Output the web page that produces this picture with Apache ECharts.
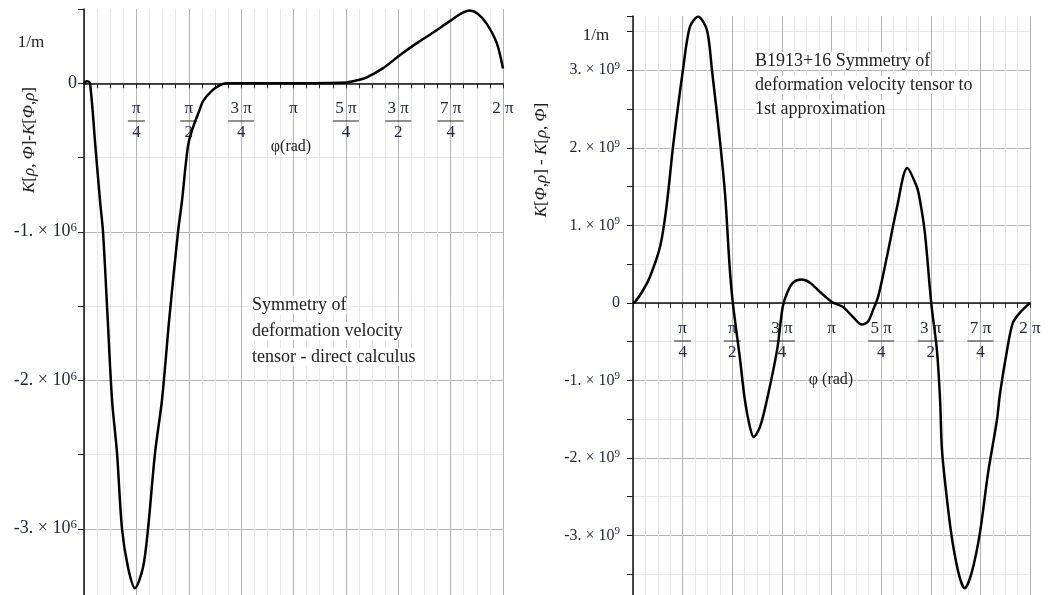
<!DOCTYPE html>
<html>
<head>
<meta charset="utf-8">
<script src="https://cdn.jsdelivr.net/npm/echarts@6/dist/echarts.min.js"></script>
<style>
  html, body { margin: 0; padding: 0; background: #fff; }
  #chart { width: 1052px; height: 595px; }
</style>
</head>
<body>
<div id="chart"></div>
<script>
// left: direct calculus, phi in rad
const leftPhi = [0, 0.045, 0.09, 0.17, 0.24, 0.285, 0.35, 0.42, 0.495, 0.57, 0.66, 0.765, 0.885, 0.96, 1.065, 1.17, 1.28, 1.41, 1.47, 1.56, 1.64, 1.725, 1.785, 1.92, 2.04, 2.13, 3.0, 3.93, 4.1, 4.24, 4.48, 4.74, 4.99, 5.23, 5.49, 5.66, 5.78, 5.9, 6.04, 6.19, 6.283];
const leftVal = [0, 0.013e6, 0, -0.42e6, -0.79e6, -1.0e6, -1.54e6, -2.13e6, -2.49e6, -3.0e6, -3.26e6, -3.40e6, -3.26e6, -3.0e6, -2.49e6, -2.13e6, -1.58e6, -1.0e6, -0.79e6, -0.42e6, -0.29e6, -0.19e6, -0.12e6, -0.05e6, -0.013e6, 0, 0, 0.005e6, 0.02e6, 0.04e6, 0.10e6, 0.19e6, 0.27e6, 0.34e6, 0.42e6, 0.47e6, 0.49e6, 0.47e6, 0.40e6, 0.27e6, 0.10e6];

// right: B1913+16, 1st approximation
const rightPhi = [0, 0.03, 0.15, 0.27, 0.43, 0.53, 0.64, 0.79, 0.90, 1.03, 1.17, 1.25, 1.38, 1.46, 1.53, 1.58, 1.69, 1.77, 1.85, 1.91, 2.01, 2.12, 2.28, 2.37, 2.44, 2.53, 2.67, 2.80, 2.96, 3.15, 3.32, 3.48, 3.62, 3.72, 3.80, 3.88, 4.02, 4.18, 4.34, 4.49, 4.54, 4.62, 4.72, 4.81, 4.86, 4.89, 4.97, 5.06, 5.17, 5.25, 5.36, 5.49, 5.62, 5.76, 5.81, 5.92, 6.01, 6.12, 6.283];
const rightVal = [0, 0.01e9, 0.15e9, 0.34e9, 0.73e9, 1.24e9, 2.06e9, 3.0e9, 3.56e9, 3.69e9, 3.52e9, 3.0e9, 2.06e9, 1.37e9, 0.46e9, 0, -0.70e9, -1.25e9, -1.60e9, -1.73e9, -1.60e9, -1.25e9, -0.61e9, -0.05e9, 0.13e9, 0.26e9, 0.30e9, 0.26e9, 0.14e9, 0.01e9, -0.05e9, -0.18e9, -0.28e9, -0.24e9, -0.09e9, 0.08e9, 0.60e9, 1.24e9, 1.74e9, 1.50e9, 1.33e9, 0.90e9, 0, -0.61e9, -1.25e9, -1.90e9, -2.54e9, -3.10e9, -3.54e9, -3.68e9, -3.48e9, -2.97e9, -2.19e9, -1.51e9, -1.16e9, -0.61e9, -0.26e9, -0.13e9, 0];

// x tick labels at multiples of pi/4
const tickNum = ['π', 'π', '3 π', 'π', '5 π', '3 π', '7 π', '2 π'];
const tickDen = ['4', '2', '4', '', '4', '2', '4', ''];

const FONT = '"Liberation Serif", "DejaVu Serif", serif';
const MAJOR = '#b4b4b4';
const MINOR = '#e8e8e8';
const LABEL = '#1e2440';

const chart = echarts.init(document.getElementById('chart'));

function xLabel(v) {
  const k = Math.round(v * 4);
  if (k < 1 || Math.abs(v * 4 - k) > 1e-6) return '';
  const num = tickNum[k - 1], den = tickDen[k - 1];
  if (!den) return '{n|' + num + '}';
  const bar = num.length > 1 ? 'bw' : 'b';
  return '{n|' + num + '}\n{' + bar + '|}\n{n|' + den + '}';
}

function yLabel(exp) {
  const s = Math.pow(10, exp);
  return function (v) {
    const k = Math.round(v / s);
    if (Math.abs(v / s - k) > 1e-6) return '';
    if (k === 0) return '{m|0}';
    return '{m|' + k + '. × 10}{e|' + exp + '}';
  };
}

function xAxis(gridIndex) {
  return {
    type: 'value', gridIndex: gridIndex,
    min: 0, max: 2, interval: 0.0625,
    axisLine: { onZero: true, lineStyle: { color: '#111', width: 1.5 } },
    axisTick: { show: true, length: 5, lineStyle: { color: '#222' } },
    splitLine: { show: true, lineStyle: { color: [MAJOR, MINOR, MINOR, MINOR], width: 1 } },
    axisLabel: { show: false }
  };
}

// labels-only x axis, its grid ends on the zero line
function xLabelAxis(gridIndex) {
  return {
    type: 'value', gridIndex: gridIndex,
    min: 0, max: 2, interval: 0.0625,
    axisLine: { show: false }, axisTick: { show: false }, splitLine: { show: false },
    axisLabel: {
      margin: 17, formatter: xLabel, color: LABEL,
      rich: {
        n: { fontSize: 17, lineHeight: 18, fontFamily: FONT, color: LABEL },
        b: { width: 17, height: 1, lineHeight: 6, backgroundColor: '#222' },
        bw: { width: 26, height: 1, lineHeight: 6, backgroundColor: '#222' }
      }
    }
  };
}

function yAxis(gridIndex, min, max, step, exp, colors, margin, fs) {
  return {
    type: 'value', gridIndex: gridIndex,
    min: min, max: max, interval: step,
    axisLine: { show: true, onZero: true, lineStyle: { color: '#111', width: 1.5 } },
    axisTick: { show: true, length: 6, lineStyle: { color: '#222' } },
    splitLine: { show: true, showMaxLine: false, lineStyle: { color: colors, width: 1 } },
    axisLabel: {
      margin: margin, formatter: yLabel(exp),
      rich: {
        m: { fontSize: fs, fontFamily: FONT, color: LABEL },
        e: { fontSize: fs - 5, fontFamily: FONT, color: LABEL, verticalAlign: 'top', padding: [0, 0, 8, 0] }
      }
    }
  };
}

function hiddenY(gridIndex) {
  return { type: 'value', gridIndex: gridIndex, min: 0, max: 1, show: false };
}

const txt = { fontFamily: FONT, fill: '#222' };

const option = {
  animation: false,
  backgroundColor: '#fff',
  grid: [
    { left: 84, width: 419, top: 9, height: 594, outerBoundsMode: 'none' },
    { left: 633, width: 397, top: 16, height: 597, outerBoundsMode: 'none' },
    { left: 84, width: 419, top: 9, height: 74, outerBoundsMode: 'none' },
    { left: 633, width: 397, top: 16, height: 287, outerBoundsMode: 'none' }
  ],
  xAxis: [xAxis(0), xAxis(1), xLabelAxis(2), xLabelAxis(3)],
  yAxis: [
    yAxis(0, -3.5e6, 0.5e6, 0.5e6, 6, [MINOR, MAJOR], 7, 18),
    yAxis(1, -4e9, 3.7e9, 0.5e9, 9, [MAJOR, MINOR], 13, 16),
    hiddenY(2),
    hiddenY(3)
  ],
  series: [
    {
      type: 'line', xAxisIndex: 0, yAxisIndex: 0, smooth: 0.3, showSymbol: false,
      lineStyle: { color: '#000', width: 2.5 },
      data: leftPhi.map((p, i) => [p / Math.PI, leftVal[i]])
    },
    {
      type: 'line', xAxisIndex: 1, yAxisIndex: 1, smooth: 0.3, showSymbol: false,
      lineStyle: { color: '#000', width: 2.5 },
      data: rightPhi.map((p, i) => [p / Math.PI, rightVal[i]])
    }
  ],
  graphic: [
    { type: 'text', x: 31, y: 43, style: Object.assign({ text: '1/m', fontSize: 17, align: 'center', verticalAlign: 'middle' }, txt) },
    { type: 'text', x: 596, y: 36, style: Object.assign({ text: '1/m', fontSize: 17, align: 'center', verticalAlign: 'middle' }, txt) },
    { type: 'text', x: 30, y: 140, rotation: Math.PI / 2,
      style: Object.assign({ text: '{i|K}[{i|ρ}, {i|Φ}]-{i|K}[{i|Φ},{i|ρ}]', fontSize: 17, align: 'center', verticalAlign: 'middle',
        rich: { i: { fontStyle: 'italic', fontSize: 17, fontFamily: FONT } } }, txt) },
    { type: 'text', x: 542, y: 160, rotation: Math.PI / 2,
      style: Object.assign({ text: '{i|K}[{i|Φ},{i|ρ}] - {i|K}[{i|ρ}, {i|Φ}]', fontSize: 17, align: 'center', verticalAlign: 'middle',
        rich: { i: { fontStyle: 'italic', fontSize: 17, fontFamily: FONT } } }, txt) },
    { type: 'text', x: 291, y: 147, z: 100, style: Object.assign({ text: 'φ(rad)', fontSize: 16, align: 'center', verticalAlign: 'middle' }, txt) },
    { type: 'text', x: 831, y: 380, z: 100, style: Object.assign({ text: 'φ (rad)', fontSize: 16, align: 'center', verticalAlign: 'middle' }, txt) },
    { type: 'text', x: 252, y: 292, z: 100, style: Object.assign({
        text: '{w|Symmetry of}\n{w|deformation velocity}\n{w|tensor - direct calculus}', fontSize: 18,
        rich: { w: { fontSize: 18, lineHeight: 26, fontFamily: FONT, backgroundColor: '#fff' } } }, txt) },
    { type: 'text', x: 755, y: 49, z: 100, style: Object.assign({
        text: '{w|B1913+16 Symmetry of}\n{w|deformation velocity tensor to}\n{w|1st approximation}', fontSize: 18,
        rich: { w: { fontSize: 18, lineHeight: 24, fontFamily: FONT, backgroundColor: '#fff' } } }, txt) }
  ]
};

chart.setOption(option);
</script>
</body>
</html>
